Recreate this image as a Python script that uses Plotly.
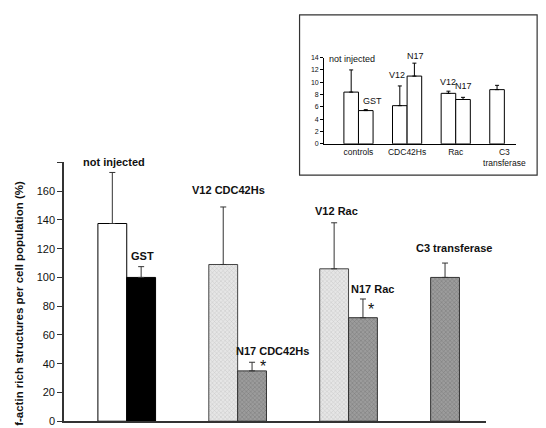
import plotly.graph_objects as go

# ---- main chart data ----
main_labels = ["not injected", "GST", "V12 CDC42Hs", "N17 CDC42Hs", "V12 Rac", "N17 Rac", "C3 transferase"]
main_values = [137.5, 100, 109, 35, 106, 72, 100]
main_err = [35.5, 7.5, 40, 6, 32, 13, 10]
main_pos = [-0.13, 0.13, 0.87, 1.13, 1.87, 2.13, 2.87]   # group index +/- half bar
main_yticks = [0, 20, 40, 60, 80, 100, 120, 140, 160]

# ---- inset chart data ----
inset_cats = ["controls", "CDC42Hs", "Rac", "C3<br>transferase"]
inset_labels = ["not injected", "GST", "V12", "N17", "V12", "N17"]
inset_values = [8.4, 5.4, 6.2, 11.0, 8.2, 7.2, 8.8]
inset_err = [3.6, 0.15, 3.2, 2.1, 0.35, 0.35, 0.7]
inset_pos = [-0.15, 0.15, 0.85, 1.15, 1.85, 2.15, 2.85]
inset_yticks = [0, 2, 4, 6, 8, 10, 12, 14]

W, H = 546, 428
fig = go.Figure()

light = dict(color="#d8d8d8", pattern=dict(shape="x", size=3, fgcolor="#a8a8a8", bgcolor="#e6e6e6", solidity=0.3))
dark = dict(color="#8a8a8a", pattern=dict(shape="x", size=3, fgcolor="#555555", bgcolor="#9c9c9c", solidity=0.3))
fills = [dict(color="white"), dict(color="black"), light, dark, light, dark, dark]
line_cols = ["black", "black", "#444", "#333", "#444", "#333", "#333"]

for i in range(len(main_values)):
    fig.add_trace(go.Bar(
        x=[main_pos[i]], y=[main_values[i]], width=0.26,
        marker=dict(**fills[i], line=dict(color=line_cols[i], width=1)),
        error_y=dict(type="data", array=[main_err[i]], arrayminus=[0], symmetric=False,
                     color="#333", thickness=1, width=3),
        xaxis="x", yaxis="y", showlegend=False, hoverinfo="skip"))

for i in range(len(inset_values)):
    fig.add_trace(go.Bar(
        x=[inset_pos[i]], y=[inset_values[i]], width=0.30,
        marker=dict(color="white", line=dict(color="black", width=1)),
        error_y=dict(type="data", array=[inset_err[i]], arrayminus=[0], symmetric=False,
                     color="black", thickness=1, width=2),
        xaxis="x2", yaxis="y2", showlegend=False, hoverinfo="skip"))

fig.update_layout(
    width=W, height=H, margin=dict(l=0, r=0, t=0, b=0),
    paper_bgcolor="white", plot_bgcolor="rgba(0,0,0,0)",
    barmode="overlay",
    font=dict(family="Liberation Sans, Arial", color="#111"),
    xaxis=dict(domain=[57/W, 487/W], range=[-0.566, 3.24], showgrid=False, zeroline=False,
               showticklabels=False, ticks="", showline=True, linecolor="#333", linewidth=1.5,
               anchor="y", fixedrange=True),
    yaxis=dict(domain=[(H-419)/H, (H-154)/H], range=[0, 180], showgrid=False, zeroline=False,
               tickvals=main_yticks + [180], ticktext=[str(v) for v in main_yticks] + [""],
               ticks="outside", ticklen=5, tickcolor="#333",
               tickfont=dict(family="Liberation Sans Narrow, Liberation Sans", size=11),
               showline=True, linecolor="#333", linewidth=1.5, anchor="x"),
    xaxis2=dict(domain=[322/W, 517/W], range=[-0.707, 3.23], showgrid=False, zeroline=False,
                tickvals=[0, 1, 2, 3], ticktext=inset_cats, ticks="",
                tickfont=dict(size=8.5), showline=True, linecolor="black", linewidth=1,
                anchor="y2"),
    yaxis2=dict(domain=[(H-135)/H, (H-46.7)/H], range=[0, 14], showgrid=False, zeroline=False,
                tickvals=inset_yticks, ticks="outside", ticklen=3, tickcolor="black",
                tickfont=dict(size=7), showline=True, linecolor="black", linewidth=1,
                anchor="x2"),
)

# inset frame
fig.add_shape(type="rect", xref="paper", yref="paper",
              x0=297/W, x1=539/W, y0=(H-167)/H, y1=(H-3)/H,
              line=dict(color="#333", width=1.2), fillcolor="rgba(0,0,0,0)", layer="below")

# main bar labels (x in group units, y in data units, centred)
main_label_pos = [(-0.115, 180), (0.142, 114.6), (0.92, 160.7), (1.31, 48.8),
                  (1.89, 146.4), (2.22, 92.2), (2.955, 120.7)]
for i, lab in enumerate(main_labels):
    fig.add_annotation(x=main_label_pos[i][0], y=main_label_pos[i][1], text="<b>%s</b>" % lab,
                       xref="x", yref="y", showarrow=False, xanchor="center", yanchor="middle",
                       font=dict(size=11, color="#111"))
# significance stars
for xs, ys in [(1.23, 38.0), (2.20, 77.5)]:
    fig.add_annotation(x=xs, y=ys, text="*", xref="x", yref="y", showarrow=False,
                       xanchor="center", yanchor="middle", font=dict(size=16, color="#111"))

# inset bar labels (pixel-centred, placed in paper coords)
inset_label_px = [(350, 48), (371, 91), (396, 65), (415, 45), (448, 72), (464, 76)]
for i, (px, py) in enumerate(inset_label_px):
    fig.add_annotation(x=px/W, y=(H-py)/H, text=inset_labels[i], xref="paper", yref="paper",
                       showarrow=False, xanchor="center", yanchor="middle",
                       font=dict(size=9, color="#111"))

# y-axis title
fig.add_annotation(x=11/W, y=(H-298)/H, xref="paper", yref="paper", textangle=-90,
                   xanchor="center", yanchor="middle",
                   text="<b>f-actin rich structures per cell population (%)</b>", showarrow=False,
                   font=dict(size=11.5, color="#111"))

fig.write_html("out.html")
